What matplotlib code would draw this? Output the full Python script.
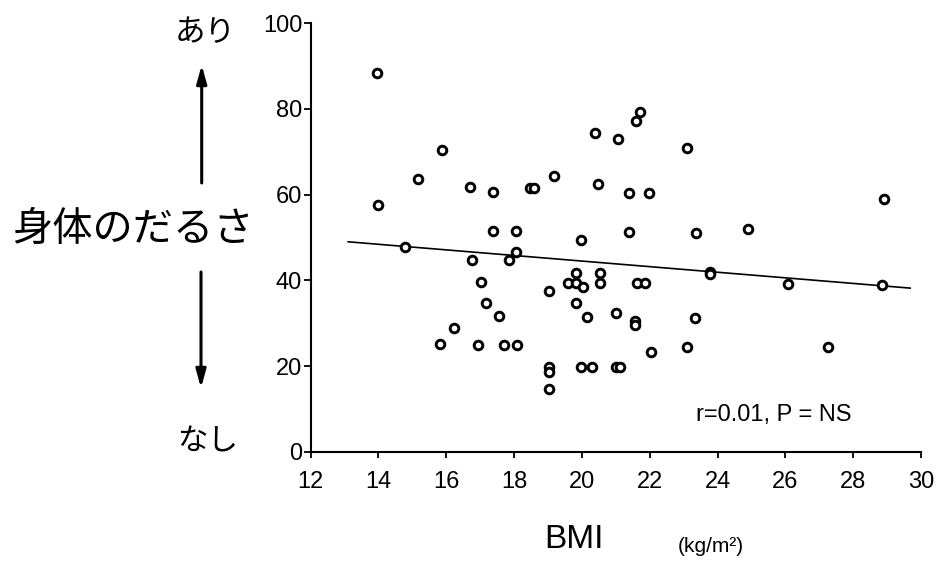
import matplotlib
matplotlib.use("Agg")
import matplotlib.pyplot as plt

# BMI (kg/m2) values
bmi = [13.95, 14.00, 14.80, 15.18, 15.88, 15.82, 16.24, 16.70, 16.75, 16.94,
       17.04, 17.16, 17.39, 17.39, 17.55, 17.70, 17.86, 18.06, 18.06, 18.10,
       18.47, 18.59, 19.04, 19.17, 19.03, 19.03, 19.03, 19.60, 19.82, 19.84,
       19.82, 19.97, 20.04, 19.99, 20.16, 20.30, 20.38, 20.48, 20.53, 20.53,
       21.00, 21.00, 21.12, 21.07, 21.38, 21.39, 21.56, 21.56, 21.61, 21.71,
       21.63, 21.86, 21.97, 22.03, 23.10, 23.11, 23.33, 23.38, 23.77, 23.77,
       24.90, 26.08, 27.26, 28.86, 28.90]
# 身体のだるさ scores
fatigue = [88.4, 57.5, 47.7, 63.7, 70.4, 25.1, 28.8, 61.7, 44.8, 24.9,
           39.6, 34.7, 60.6, 51.6, 31.7, 24.9, 44.7, 51.6, 46.6, 24.9,
           61.6, 61.6, 37.5, 64.4, 19.7, 18.7, 14.8, 39.5, 39.5, 41.8,
           34.7, 49.4, 38.4, 19.7, 31.5, 19.7, 74.4, 62.4, 41.8, 39.3,
           32.5, 19.7, 19.7, 73.0, 51.3, 60.3, 30.6, 29.6, 77.2, 79.3,
           39.3, 39.3, 60.3, 23.2, 70.9, 24.5, 31.3, 51.1, 42.0, 41.4,
           51.9, 39.1, 24.4, 38.9, 58.9]
# regression line end points
fit_x = [13.11, 29.68]
fit_y = [49.0, 38.2]

x_ticks = [12, 14, 16, 18, 20, 22, 24, 26, 28, 30]
y_ticks = [0, 20, 40, 60, 80, 100]

W, H = 941, 574
fig = plt.figure(figsize=(W / 100, H / 100), dpi=100)
ax = fig.add_axes([310.5 / W, 1 - 452 / H, (921 - 310.5) / W, (452 - 23) / H])

tick_font = "Liberation Sans"
jp = ["Noto Sans CJK JP", "DejaVu Sans"]

ax.plot(fit_x, fit_y, color="black", lw=1.2, zorder=2)
ax.plot(bmi, fatigue, linestyle="none", marker="o", ms=6.2, mew=2.1,
        mfc="white", mec="black", zorder=3)

ax.set_xlim(12, 30)
ax.set_ylim(0, 100)
ax.set_xticks(x_ticks)
ax.set_yticks(y_ticks)
ax.set_xticklabels([str(t) for t in x_ticks], fontsize=17, family=tick_font)
ax.set_yticklabels([str(t) for t in y_ticks], fontsize=17, family=tick_font)
for s in ["top", "right"]:
    ax.spines[s].set_visible(False)
for s in ["left", "bottom"]:
    ax.spines[s].set_linewidth(1.5)
ax.tick_params(axis="x", direction="out", length=4, width=1.3, pad=10)
ax.tick_params(axis="y", direction="out", length=5, width=1.3, pad=1)
ax.spines["left"].set_zorder(4)

fig.text(696 / W, 1 - 415 / H, "r=0.01, P = NS", fontsize=17,
         family=tick_font, ha="left", va="center")

# x label
fig.text(574 / W, 1 - 540 / H, "BMI", fontsize=24, family=tick_font,
         ha="center", va="center")
fig.text(711 / W, 1 - 546 / H, "(kg/m²)", fontsize=15, family=tick_font,
         ha="center", va="center")

# y label with arrows
fig.text(133 / W, 1 - 230 / H, "身体のだるさ", fontsize=29, family=jp,
         ha="center", va="center")
fig.text(205 / W, 1 - 33 / H, "あり", fontsize=22, family=jp,
         ha="center", va="center")
fig.text(208 / W, 1 - 442 / H, "なし", fontsize=22, family=jp,
         ha="center", va="center")

arrow_kw = dict(arrowstyle="-|>,head_length=0.9,head_width=0.25",
                color="black", lw=2.2, shrinkA=0, shrinkB=0)
fig.add_artist(matplotlib.patches.FancyArrowPatch(
    (201.7 / W, 1 - 183 / H), (201.7 / W, 1 - 65 / H),
    transform=fig.transFigure, mutation_scale=12, **arrow_kw))
fig.add_artist(matplotlib.patches.FancyArrowPatch(
    (201 / W, 1 - 272 / H), (201 / W, 1 - 388 / H),
    transform=fig.transFigure, mutation_scale=12, **arrow_kw))

fig.savefig("out.png", dpi=100)
